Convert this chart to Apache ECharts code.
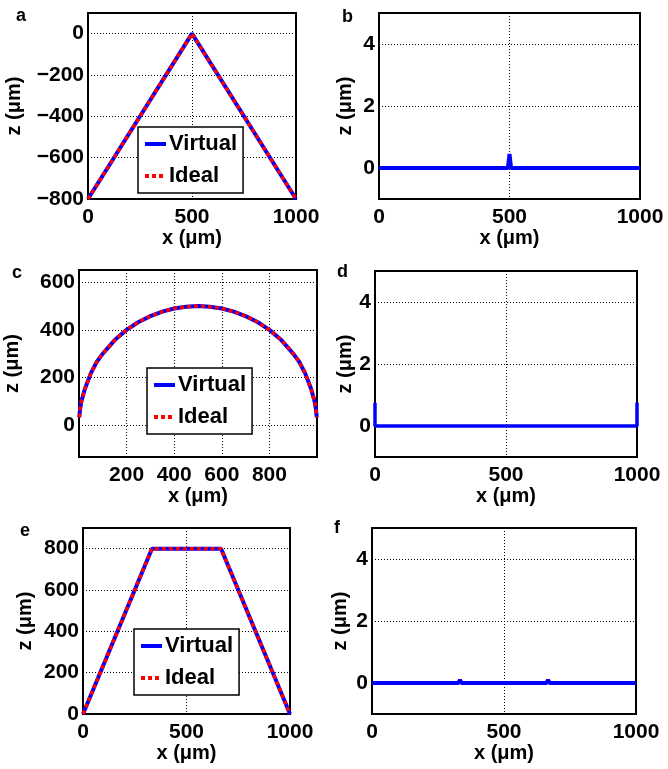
<!DOCTYPE html>
<html>
<head>
<meta charset="utf-8">
<script src="https://cdn.jsdelivr.net/npm/echarts@6/dist/echarts.min.js"></script>
<style>
  html, body { margin: 0; padding: 0; background: #fff; }
  #chart { width: 668px; height: 769px; }
</style>
</head>
<body>
<div id="chart"></div>
<script>
// panel a: triangle profile
var triX = [0, 500, 1000];
var triZ = [-800, 0, -800];
// panel b: residual of triangle
var resAX = [0, 494, 500, 506, 1000];
var resAZ = [0, 0, 0.45, 0, 0];
// panel c: half circle profile
var circX = [1, 5, 10, 25, 50, 75, 100, 150, 200, 250, 300, 350, 400, 450, 500, 550, 600, 650, 700, 750, 800, 850, 900, 925, 950, 975, 990, 995, 999];
var circZ = [32, 70, 99, 152, 218, 266, 300, 357, 400, 433, 458, 477, 490, 497, 500, 497, 490, 477, 458, 433, 400, 357, 300, 266, 218, 152, 99, 70, 32];
// panel d: residual of circle
var resCX = [0, 0, 1000, 1000];
var resCZ = [0.75, 0, 0, 0.75];
// panel e: trapezoid profile
var trapX = [0, 333, 667, 1000];
var trapZ = [0, 800, 800, 0];
// panel f: residual of trapezoid
var resEX = [0, 327, 333, 339, 661, 667, 673, 1000];
var resEZ = [0, 0, 0.1, 0, 0, 0.1, 0, 0];

var panelLetters = ['a', 'b', 'c', 'd', 'e', 'f'];
var profileTicks = [[-800, -600, -400, -200, 0], [0, 200, 400, 600], [0, 200, 400, 600, 800]];
var resTicks = [0, 2, 4];
var xTicksFull = [0, 500, 1000];
var xTicksCirc = [200, 400, 600, 800];

function pairs(xs, zs) {
    var out = [];
    for (var i = 0; i < xs.length; i++) out.push([xs[i], zs[i]]);
    return out;
}

var FONT = "'Liberation Sans', Arial, sans-serif";
var labelStyle = { color: '#000', fontFamily: FONT, fontWeight: 'bold', fontSize: 21 };
var nameStyle = { color: '#000', fontFamily: FONT, fontWeight: 'bold', fontSize: 20 };
var fmt = function (v) { return v < 0 ? '\u2212' + String(-v) : String(v); };

var dom = document.getElementById('chart');
var myChart = echarts.init(dom, null, { renderer: 'canvas' });

var grids = [
    { left: 88, top: 13, width: 208, height: 186 },
    { left: 379, top: 13, width: 261, height: 186 },
    { left: 79, top: 270, width: 238, height: 187 },
    { left: 375, top: 271, width: 262, height: 186 },
    { left: 83, top: 528, width: 207, height: 186 },
    { left: 372, top: 528, width: 264, height: 186 }
];
grids.forEach(function (g) {
    g.show = true;
    g.borderColor = '#000';
    g.borderWidth = 2;
    g.backgroundColor = '#fff';
});

function xAxis(idx, ticks) {
    return {
        type: 'value', gridIndex: idx, min: 0, max: 1000,
        name: 'x (μm)', nameLocation: 'middle', nameGap: 24,
        nameTextStyle: nameStyle,
        axisLine: { show: true, onZero: false, lineStyle: { color: '#000', width: 2 } },
        axisTick: { show: false, customValues: ticks },
        axisLabel: Object.assign({ margin: 8, customValues: ticks, formatter: fmt }, labelStyle),
        splitLine: { show: true, lineStyle: { color: '#000', width: 1, type: [1, 2] } }
    };
}
function yAxis(idx, min, max, ticks, gap) {
    return {
        type: 'value', gridIndex: idx, min: min, max: max,
        name: 'z (μm)', nameLocation: 'middle', nameGap: gap,
        nameTextStyle: nameStyle,
        axisLine: { show: true, onZero: false, lineStyle: { color: '#000', width: 2 } },
        axisTick: { show: false, customValues: ticks },
        axisLabel: Object.assign({ margin: 4, customValues: ticks, formatter: fmt }, labelStyle),
        splitLine: { show: true, lineStyle: { color: '#000', width: 1, type: [1, 2] } }
    };
}

function virtual(idx, data) {
    return {
        name: 'Virtual', type: 'line', xAxisIndex: idx, yAxisIndex: idx,
        data: data, showSymbol: false, symbol: 'none', animation: false,
        lineStyle: { color: '#0000ff', width: 4 }, itemStyle: { color: '#0000ff' }
    };
}
function ideal(idx, data) {
    return {
        name: 'Ideal', type: 'line', xAxisIndex: idx, yAxisIndex: idx,
        data: data, showSymbol: false, symbol: 'none', animation: false,
        lineStyle: { color: '#ff0000', width: 3.5, type: [4, 3] }, itemStyle: { color: '#ff0000' }
    };
}
function residual(idx, data, w) {
    return {
        name: 'Residual', type: 'line', xAxisIndex: idx, yAxisIndex: idx,
        data: data, showSymbol: false, symbol: 'none', animation: false,
        lineStyle: { color: '#0000ff', width: w }
    };
}

function legendAt(left, top) {
    return {
        data: ['Virtual', 'Ideal'], orient: 'vertical', left: left, top: top,
        backgroundColor: '#fff', borderColor: '#000', borderWidth: 1.5,
        padding: [6, 6, 6, 5], itemGap: 10, itemWidth: 21, itemHeight: 16,
        itemStyle: { opacity: 0 },
        lineStyle: { width: 4 },
        textStyle: { color: '#000', fontFamily: FONT, fontWeight: 'bold', fontSize: 22, padding: [0, 0, 0, -2] },
        selectedMode: false
    };
}

// left edge and baseline of each panel letter
var letterPos = [[16, 22.5], [342, 23], [12, 279.5], [337, 278], [20, 537], [334, 534]];
var titles = panelLetters.map(function (t, i) {
    return {
        text: t, left: letterPos[i][0], top: letterPos[i][1] - 15, padding: 0,
        textStyle: { color: '#000', fontFamily: FONT, fontWeight: 'bold', fontSize: 18, lineHeight: 18 }
    };
});

var option = {
    backgroundColor: '#fff',
    animation: false,
    title: titles,
    grid: grids,
    legend: [legendAt(138, 127), legendAt(147, 368), legendAt(134, 629)],
    xAxis: [
        xAxis(0, xTicksFull), xAxis(1, xTicksFull),
        xAxis(2, xTicksCirc), xAxis(3, xTicksFull),
        xAxis(4, xTicksFull), xAxis(5, xTicksFull)
    ],
    yAxis: [
        yAxis(0, -800, 100, profileTicks[0], 64),
        yAxis(1, -1, 5, resTicks, 24),
        yAxis(2, -135, 652, profileTicks[1], 57),
        yAxis(3, -1, 5, resTicks, 20),
        yAxis(4, 0, 900, profileTicks[2], 48),
        yAxis(5, -1, 5, resTicks, 22)
    ],
    series: [
        virtual(0, pairs(triX, triZ)),
        ideal(0, pairs(triX, triZ)),
        residual(1, pairs(resAX, resAZ), 4),
        virtual(2, pairs(circX, circZ)),
        ideal(2, pairs(circX, circZ)),
        residual(3, pairs(resCX, resCZ), 3.5),
        virtual(4, pairs(trapX, trapZ)),
        ideal(4, pairs(trapX, trapZ)),
        residual(5, pairs(resEX, resEZ), 4)
    ]
};

if (option && typeof option === 'object') {
    myChart.setOption(option, true);
}
</script>
</body>
</html>
